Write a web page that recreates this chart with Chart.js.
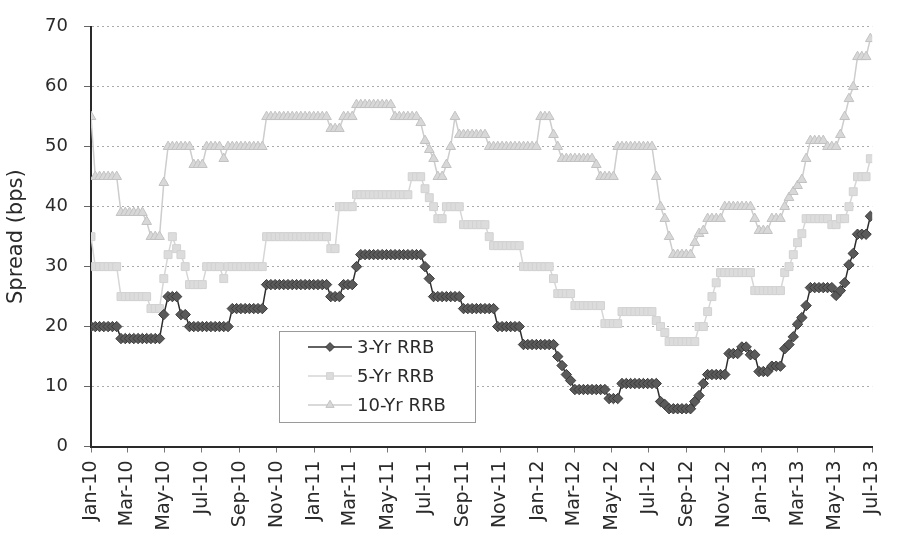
<!DOCTYPE html>
<html>
<head>
<meta charset="utf-8">
<script src="https://cdn.jsdelivr.net/npm/chart.js@4/dist/chart.umd.min.js"></script>
<style>
  html, body { margin: 0; padding: 0; background: #fff; }
  #wrap { width: 903px; height: 541px; }
</style>
</head>
<body>
<div id="wrap"><canvas id="chart" width="903" height="541"></canvas></div>
<script>
"use strict";

// weekly readings, first week = 1 Jan 2010
const threeYr = [
  20, 20, 20, 20, 20, 20, 20, 18, 18, 18,
  18, 18, 18, 18, 18, 18, 18, 22, 25, 25,
  25, 22, 22, 20, 20, 20, 20, 20, 20, 20,
  20, 20, 20, 23, 23, 23, 23, 23, 23, 23,
  23, 27, 27, 27, 27, 27, 27, 27, 27, 27,
  27, 27, 27, 27, 27, 27, 25, 25, 25, 27,
  27, 27, 30, 32, 32, 32, 32, 32, 32, 32,
  32, 32, 32, 32, 32, 32, 32, 32, 30, 28,
  25, 25, 25, 25, 25, 25, 25, 23, 23, 23,
  23, 23, 23, 23, 23, 20, 20, 20, 20, 20,
  20, 17, 17, 17, 17, 17, 17, 17, 17, 15,
  13.5, 12, 11, 9.5, 9.5, 9.5, 9.5, 9.5, 9.5, 9.5,
  9.5, 8, 8, 8, 10.5, 10.5, 10.5, 10.5, 10.5, 10.5,
  10.5, 10.5, 10.5, 7.5, 7, 6.3, 6.3, 6.3, 6.3, 6.3,
  6.3, 7.5, 8.5, 10.5, 12, 12, 12, 12, 12, 15.5,
  15.5, 15.5, 16.6, 16.6, 15.3, 15.3, 12.5, 12.5, 12.5, 13.4,
  13.4, 13.4, 16.3, 17, 18.3, 20.4, 21.5, 23.5, 26.5, 26.5,
  26.5, 26.5, 26.5, 26.5, 25.2, 26, 27.3, 30.3, 32.2, 35.4,
  35.4, 35.4, 38.4
];

const fiveYr = [
  35, 30, 30, 30, 30, 30, 30, 25, 25, 25,
  25, 25, 25, 25, 23, 23, 23, 28, 32, 35,
  33, 32, 30, 27, 27, 27, 27, 30, 30, 30,
  30, 28, 30, 30, 30, 30, 30, 30, 30, 30,
  30, 35, 35, 35, 35, 35, 35, 35, 35, 35,
  35, 35, 35, 35, 35, 35, 33, 33, 40, 40,
  40, 40, 42, 42, 42, 42, 42, 42, 42, 42,
  42, 42, 42, 42, 42, 45, 45, 45, 43, 41.5,
  40, 38, 38, 40, 40, 40, 40, 37, 37, 37,
  37, 37, 37, 35, 33.5, 33.5, 33.5, 33.5, 33.5, 33.5,
  33.5, 30, 30, 30, 30, 30, 30, 30, 28, 25.5,
  25.5, 25.5, 25.5, 23.5, 23.5, 23.5, 23.5, 23.5, 23.5, 23.5,
  20.5, 20.5, 20.5, 20.5, 22.5, 22.5, 22.5, 22.5, 22.5, 22.5,
  22.5, 22.5, 21, 20, 19, 17.5, 17.5, 17.5, 17.5, 17.5,
  17.5, 17.5, 20, 20, 22.5, 25, 27.3, 29, 29, 29,
  29, 29, 29, 29, 29, 26, 26, 26, 26, 26,
  26, 26, 29, 30, 32, 34, 35.5, 38, 38, 38,
  38, 38, 38, 37, 37, 38, 38, 40, 42.5, 45,
  45, 45, 48
];

const tenYr = [
  55, 45, 45, 45, 45, 45, 45, 39, 39, 39,
  39, 39, 39, 37.5, 35, 35, 35, 44, 50, 50,
  50, 50, 50, 50, 47, 47, 47, 50, 50, 50,
  50, 48, 50, 50, 50, 50, 50, 50, 50, 50,
  50, 55, 55, 55, 55, 55, 55, 55, 55, 55,
  55, 55, 55, 55, 55, 55, 53, 53, 53, 55,
  55, 55, 57, 57, 57, 57, 57, 57, 57, 57,
  57, 55, 55, 55, 55, 55, 55, 54, 51, 49.5,
  48, 45, 45, 47, 50, 55, 52, 52, 52, 52,
  52, 52, 52, 50, 50, 50, 50, 50, 50, 50,
  50, 50, 50, 50, 50, 55, 55, 55, 52, 50,
  48, 48, 48, 48, 48, 48, 48, 48, 47, 45,
  45, 45, 45, 50, 50, 50, 50, 50, 50, 50,
  50, 50, 45, 40, 38, 35, 32, 32, 32, 32,
  32, 34, 35.5, 36, 38, 38, 38, 38, 40, 40,
  40, 40, 40, 40, 40, 38, 36, 36, 36, 38,
  38, 38, 40, 41.5, 42.5, 43.5, 44.5, 48, 51, 51,
  51, 51, 50, 50, 50, 52, 55, 58, 60, 65,
  65, 65, 68
];

const seriesNames = ["3-Yr RRB", "5-Yr RRB", "10-Yr RRB"];

const tickLabels = [
  "Jan-10", "Mar-10", "May-10", "Jul-10", "Sep-10", "Nov-10",
  "Jan-11", "Mar-11", "May-11", "Jul-11", "Sep-11", "Nov-11",
  "Jan-12", "Mar-12", "May-12", "Jul-12", "Sep-12", "Nov-12",
  "Jan-13", "Mar-13", "May-13", "Jul-13"
];

const yTicks = [0, 10, 20, 30, 40, 50, 60, 70];

const monthNames = ["Jan", "Feb", "Mar", "Apr", "May", "Jun", "Jul", "Aug", "Sep", "Oct", "Nov", "Dec"];
const startUtc = Date.UTC(2010, 0, 1);
const dayMs = 86400000;

function labelToDay(label) {
  const [mon, yy] = label.split("-");
  return (Date.UTC(2000 + Number(yy), monthNames.indexOf(mon), 1) - startUtc) / dayMs;
}

const tickDays = tickLabels.map(labelToDay);

function toPoints(values) {
  return values.map((v, i) => ({ x: i * 7, y: v }));
}

const seriesStyles = [
  { line: "#2e2e2e", fill: "#5a5a5a", edge: "#3a3a3a", shape: "rectRot", radius: 5.2 },
  { line: "#d6d6d6", fill: "#dcdcdc", edge: "#d2d2d2", shape: "rect", radius: 5.6 },
  { line: "#cdcdcd", fill: "#d8d8d8", edge: "#c2c2c2", shape: "triangle", radius: 5.6 }
];

Chart.defaults.font.family = "'DejaVu Sans', Verdana, sans-serif";
Chart.defaults.color = "#2a2a2a";

// same geometry as the library's point styles
function drawMarker(ctx, shape, x, y, r) {
  ctx.beginPath();
  if (shape === "rectRot") {
    ctx.moveTo(x, y - r); ctx.lineTo(x + r, y); ctx.lineTo(x, y + r); ctx.lineTo(x - r, y);
  } else if (shape === "rect") {
    const h = r * Math.SQRT1_2;
    ctx.rect(x - h, y - h, 2 * h, 2 * h);
  } else {
    ctx.moveTo(x, y - r); ctx.lineTo(x + 0.866 * r, y + 0.5 * r); ctx.lineTo(x - 0.866 * r, y + 0.5 * r);
  }
  ctx.closePath();
  ctx.fill();
  ctx.stroke();
}

const boxLegend = {
  id: "boxLegend",
  afterDraw(chart) {
    const ctx = chart.ctx;
    const left = 279, top = 331, width = 196, height = 91;
    ctx.save();
    ctx.fillStyle = "#fff";
    ctx.fillRect(left, top, width, height);
    ctx.strokeStyle = "#9a9a9a";
    ctx.lineWidth = 1;
    ctx.strokeRect(left + 0.5, top + 0.5, width, height);
    ctx.font = "18px 'DejaVu Sans', Verdana, sans-serif";
    ctx.textBaseline = "middle";
    seriesNames.forEach((name, i) => {
      const st = seriesStyles[i];
      const y = top + 16 + i * 29;
      ctx.strokeStyle = st.line;
      ctx.lineWidth = 1.5;
      ctx.beginPath();
      ctx.moveTo(left + 29, y);
      ctx.lineTo(left + 73, y);
      ctx.stroke();
      ctx.fillStyle = st.fill;
      ctx.strokeStyle = st.edge;
      ctx.lineWidth = 1;
      drawMarker(ctx, st.shape, left + 51, y, st.radius * 0.85);
      ctx.fillStyle = "#2a2a2a";
      ctx.fillText(name, left + 78, y + 1);
    });
    ctx.restore();
  }
};

const datasets = [threeYr, fiveYr, tenYr].map((values, i) => ({
  label: seriesNames[i],
  data: toPoints(values),
  borderColor: seriesStyles[i].line,
  borderWidth: 1.5,
  pointStyle: seriesStyles[i].shape,
  pointRadius: seriesStyles[i].radius,
  pointBackgroundColor: seriesStyles[i].fill,
  pointBorderColor: seriesStyles[i].edge,
  pointBorderWidth: 1,
  tension: 0
}));

new Chart(document.getElementById("chart"), {
  type: "line",
  data: { datasets },
  plugins: [boxLegend],
  options: {
    responsive: false,
    animation: false,
    layout: { padding: { top: 20, right: 10, left: 0, bottom: 0 } },
    plugins: { legend: { display: false }, tooltip: { enabled: false } },
    scales: {
      x: {
        type: "linear",
        min: tickDays[0],
        max: tickDays[tickDays.length - 1],
        afterBuildTicks: scale => { scale.ticks = tickDays.map(v => ({ value: v })); },
        afterFit: scale => { scale.height = 94.5; },
        ticks: {
          autoSkip: false,
          minRotation: 90,
          maxRotation: 90,
          padding: 8,
          color: "#2a2a2a",
          font: { size: 19 },
          callback: (value, index) => tickLabels[index]
        },
        grid: { drawOnChartArea: false, drawTicks: true, tickLength: 6, tickColor: "#777", color: "#777" },
        border: { color: "#2a2a2a", width: 2 }
      },
      y: {
        min: 0,
        max: 70,
        afterBuildTicks: scale => { scale.ticks = yTicks.map(v => ({ value: v })); },
        afterFit: scale => { scale.width = 91; },
        ticks: { padding: 16, color: "#2a2a2a", font: { size: 18 } },
        grid: { color: "#ababab", lineWidth: 1, tickLength: 7, tickColor: "#666", tickBorderDash: [] },
        border: { color: "#2a2a2a", width: 2, dash: [2, 3] },
        title: {
          display: true,
          text: "Spread (bps)",
          color: "#2a2a2a",
          font: { size: 21 },
          padding: { top: 4, bottom: 0 }
        }
      }
    }
  }
});
</script>
</body>
</html>
